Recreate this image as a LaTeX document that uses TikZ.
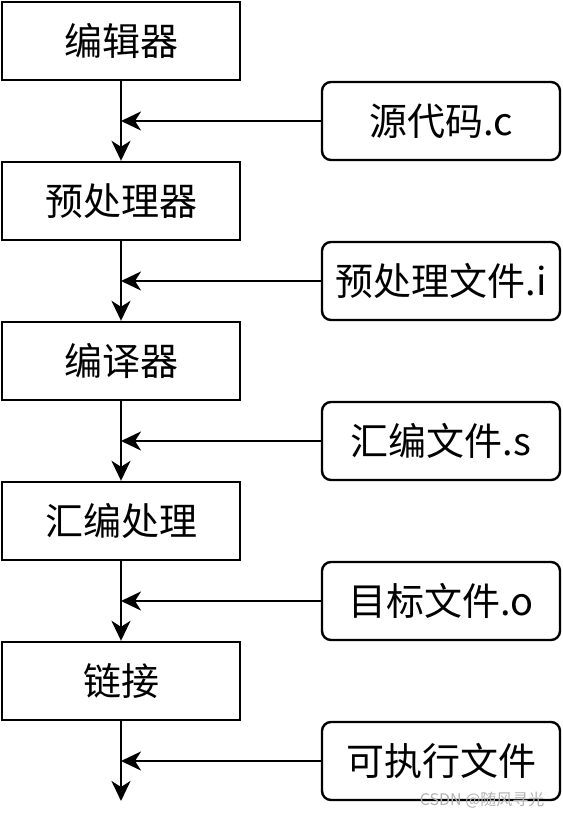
\documentclass[tikz,border=0pt]{standalone}
\usepackage{fontspec}
\setmainfont{Noto Sans CJK SC}
\usetikzlibrary{arrows.meta}
\begin{document}
\begin{tikzpicture}[x=1pt,y=-1pt,
  stage/.style={draw,line width=2.4pt,minimum width=238pt,minimum height=78pt,inner sep=0pt,font=\fontsize{38}{44}\selectfont},
  file/.style={stage,rounded corners=9pt},
  arr/.style={line width=2.4pt,-{Stealth[length=20pt,width=19pt,inset=6pt]}}]
\useasboundingbox (0,0) rectangle (562,818);
\node[stage] (s1) at (121,41) {编辑器};
\node[stage] (s2) at (121,201) {预处理器};
\node[stage] (s3) at (121,361) {编译器};
\node[stage] (s4) at (121,521) {汇编处理};
\node[stage] (s5) at (121,681) {链接};
\node[file] (f1) at (441,121) {源代码.c};
\node[file] (f2) at (441,281) {预处理文件.i};
\node[file] (f3) at (441,441) {汇编文件.s};
\node[file] (f4) at (441,601) {目标文件.o};
\node[file] (f5) at (441,761) {可执行文件};
\coordinate (j1) at (121,121);
\coordinate (j2) at (121,281);
\coordinate (j3) at (121,441);
\coordinate (j4) at (121,601);
\coordinate (j5) at (121,761);
\coordinate (end) at (121,801);
\draw[arr] (s1) -- (s2);
\draw[arr] (s2) -- (s3);
\draw[arr] (s3) -- (s4);
\draw[arr] (s4) -- (s5);
\draw[arr] (s5) -- (end);
\draw[arr] (f1) -- (j1);
\draw[arr] (f2) -- (j2);
\draw[arr] (f3) -- (j3);
\draw[arr] (f4) -- (j4);
\draw[arr] (f5) -- (j5);
\node[text=black!30,font=\fontsize{16}{18}\selectfont,anchor=east] (wm) at (548,800) {CSDN @随风寻光};
\end{tikzpicture}
\end{document}
